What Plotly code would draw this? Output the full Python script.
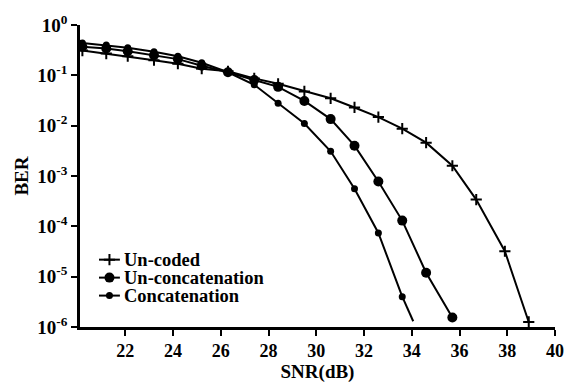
import plotly.graph_objects as go

snr = [20.2, 21.2, 22.1, 23.2, 24.2, 25.2, 26.3, 27.4, 28.4, 29.5,
       30.6, 31.6, 32.6, 33.6, 34.6, 35.7, 36.7, 37.9, 38.9]

ber_uncoded = [0.31, 0.27, 0.24, 0.20, 0.17, 0.135, 0.12, 0.087, 0.068, 0.048,
               0.035, 0.023, 0.0148, 0.0087, 0.0046, 0.0016, 3.4e-4, 3.2e-5, 1.26e-6]

ber_unconcat = [0.37, 0.34, 0.30, 0.25, 0.21, 0.155, 0.115, 0.081, 0.059, 0.031,
                0.0135, 0.004, 7.8e-4, 1.3e-4, 1.2e-5, 1.55e-6]

ber_concat = [0.44, 0.40, 0.355, 0.295, 0.24, 0.178, 0.115, 0.065, 0.028, 0.011,
              0.0031, 5.6e-4, 7.4e-5, 4.0e-6]

concat_tail_x = [33.6, 34.06]
concat_tail_y = [4.0e-6, 1.3e-6]

series_names = ["Un-coded", "Un-concatenation", "Concatenation"]

x_ticks = [22, 24, 26, 28, 30, 32, 34, 36, 38, 40]
y_tickvals = [1, 1e-1, 1e-2, 1e-3, 1e-4, 1e-5, 1e-6]
y_ticktext = ["10<sup>0</sup>", "10<sup>-1</sup>", "10<sup>-2</sup>", "10<sup>-3</sup>",
              "10<sup>-4</sup>", "10<sup>-5</sup>", "10<sup>-6</sup>"]

FONT = "Liberation Serif"
line = dict(color="black", width=2)

markers = [
    dict(symbol="cross-thin", size=8, color="black", line=dict(color="black", width=2)),
    dict(symbol="circle", size=10, color="black"),
    dict(symbol="circle", size=7, color="black"),
]

fig = go.Figure()
fig.add_trace(go.Scatter(
    x=snr, y=ber_uncoded, mode="lines+markers", name=series_names[0],
    line=line, marker=markers[0], showlegend=False,
))
fig.add_trace(go.Scatter(
    x=snr[:len(ber_unconcat)], y=ber_unconcat, mode="lines+markers",
    name=series_names[1], line=line, marker=markers[1], showlegend=False,
))
fig.add_trace(go.Scatter(
    x=snr[:len(ber_concat)], y=ber_concat, mode="lines+markers",
    name=series_names[2], line=line, marker=markers[2], showlegend=False,
))
fig.add_trace(go.Scatter(
    x=concat_tail_x, y=concat_tail_y, mode="lines", line=line,
    showlegend=False, hoverinfo="skip",
))

# Compact legend (keys on an auxiliary unit axis, labels as annotations)
key_x0, key_xm, key_x1, text_x = 0.040, 0.062, 0.084, 0.088
row_y = [0.223, 0.1635, 0.104]
annotations = []
for i, name in enumerate(series_names):
    fig.add_trace(go.Scatter(
        x=[key_x0, key_x1], y=[row_y[i]] * 2, xaxis="x2", yaxis="y2",
        mode="lines", line=line, showlegend=False, hoverinfo="skip",
    ))
    fig.add_trace(go.Scatter(
        x=[key_xm], y=[row_y[i]], xaxis="x2", yaxis="y2",
        mode="markers", marker=markers[i], showlegend=False, hoverinfo="skip",
    ))
    annotations.append(dict(
        x=text_x, y=row_y[i], xref="paper", yref="paper", text=name,
        showarrow=False, xanchor="left", yanchor="middle", height=19,
        font=dict(family=FONT, size=18.5, color="black", weight="bold"),
    ))

fig.update_layout(
    width=576, height=389,
    margin=dict(l=80, r=14, t=15, b=56),
    paper_bgcolor="white", plot_bgcolor="white",
    font=dict(family=FONT, color="black", size=17),
    showlegend=False,
    annotations=annotations,
    xaxis=dict(
        range=[20.1, 40], tickvals=x_ticks, showgrid=False, zeroline=False,
        showline=True, linecolor="black", linewidth=2.5,
        ticks="outside", ticklen=6, tickwidth=2, tickcolor="black",
        tickfont=dict(family=FONT, size=18, color="black", weight="bold"),
        title=dict(text="SNR(dB)", font=dict(family=FONT, size=19, color="black", weight="bold"), standoff=2),
    ),
    yaxis=dict(
        type="log", range=[-6, 0], tickvals=y_tickvals, ticktext=y_ticktext,
        showgrid=False, zeroline=False,
        showline=True, linecolor="black", linewidth=2.5,
        ticks="outside", ticklen=6, tickwidth=2, tickcolor="black",
        tickfont=dict(family=FONT, size=19, color="black", weight="bold"),
        title=dict(text="BER", font=dict(family=FONT, size=19, color="black", weight="bold"), standoff=4),
    ),
    xaxis2=dict(range=[0, 1], overlaying="x", visible=False, fixedrange=True),
    yaxis2=dict(range=[0, 1], overlaying="y", visible=False, fixedrange=True),
)

fig.write_html("out.html")
